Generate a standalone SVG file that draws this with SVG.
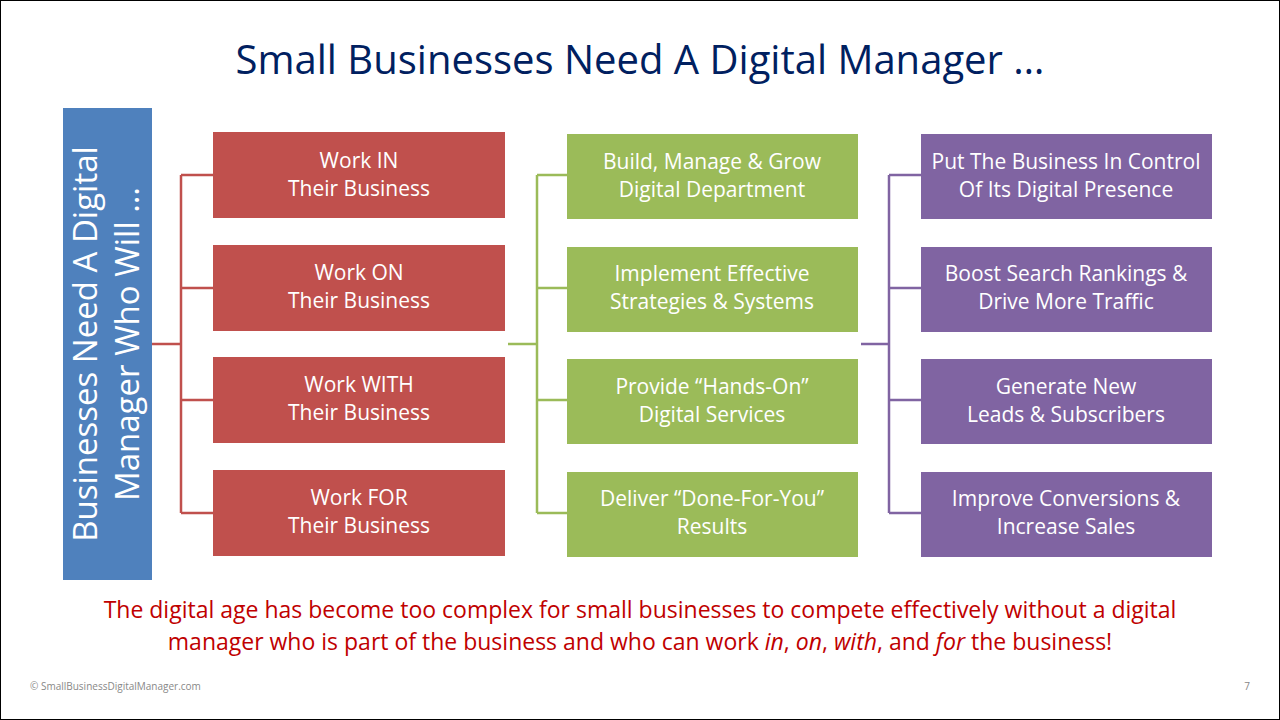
<svg xmlns="http://www.w3.org/2000/svg" width="1280" height="720" viewBox="0 0 1280 720">
<style>
text{font-family:"Open Sans","Noto Sans","Liberation Sans",sans-serif}
.t{fill:#fff;font-size:21px;text-anchor:middle}
.r{fill:#C0504D}.g{fill:#9BBB59}.p{fill:#8064A2}
.cr{stroke:#C0504D;stroke-width:2.5;fill:none}.cg{stroke:#9BBB59;stroke-width:2.5;fill:none}.cp{stroke:#8064A2;stroke-width:2.5;fill:none}
</style>
<rect x="0.5" y="0.5" width="1279" height="719" fill="#fff" stroke="#000"/>
<text x="640" y="74" font-size="40" fill="#002060" text-anchor="middle">Small Businesses Need A Digital Manager …</text>
<g id="lead"><rect x="63" y="108" width="89" height="472" fill="#4F81BD"/>
<text transform="translate(107,344) rotate(-90)" font-size="33" fill="#fff" text-anchor="middle"><tspan x="0" y="-10">Businesses Need A Digital</tspan><tspan x="0" y="32">Manager Who Will …</tspan></text></g>
<g id="connectors">
<path class="cr" d="M152 344H181M181 175V513M181 175H213M181 288H213M181 400H213M181 513H213"/>
<path class="cg" d="M508 344H537M537 175V513M537 175H567M537 288H567M537 400H567M537 513H567"/>
<path class="cp" d="M861 344H889M889 175V513M889 175H921M889 288H921M889 400H921M889 513H921"/>
</g>
<g id="r1"><rect class="r" x="213" y="132" width="292" height="86"/><text class="t" x="359" y="168">Work IN</text><text class="t" x="359" y="196">Their Business</text></g>
<g id="r2"><rect class="r" x="213" y="245" width="292" height="86"/><text class="t" x="359" y="280">Work ON</text><text class="t" x="359" y="308">Their Business</text></g>
<g id="r3"><rect class="r" x="213" y="357" width="292" height="86"/><text class="t" x="359" y="392">Work WITH</text><text class="t" x="359" y="420">Their Business</text></g>
<g id="r4"><rect class="r" x="213" y="470" width="292" height="86"/><text class="t" x="359" y="505">Work FOR</text><text class="t" x="359" y="533">Their Business</text></g>
<g id="g1"><rect class="g" x="567" y="134" width="291" height="85"/><text class="t" x="712" y="169">Build, Manage &amp; Grow</text><text class="t" x="712" y="197">Digital Department</text></g>
<g id="g2"><rect class="g" x="567" y="247" width="291" height="85"/><text class="t" x="712" y="281">Implement Effective</text><text class="t" x="712" y="309">Strategies &amp; Systems</text></g>
<g id="g3"><rect class="g" x="567" y="359" width="291" height="85"/><text class="t" x="712" y="394">Provide “Hands-On”</text><text class="t" x="712" y="422">Digital Services</text></g>
<g id="g4"><rect class="g" x="567" y="472" width="291" height="85"/><text class="t" x="712" y="506">Deliver “Done-For-You”</text><text class="t" x="712" y="534">Results</text></g>
<g id="p1"><rect class="p" x="921" y="134" width="291" height="85"/><text class="t" x="1066" y="169">Put The Business In Control</text><text class="t" x="1066" y="197">Of Its Digital Presence</text></g>
<g id="p2"><rect class="p" x="921" y="247" width="291" height="85"/><text class="t" x="1066" y="281">Boost Search Rankings &amp;</text><text class="t" x="1066" y="309">Drive More Traffic</text></g>
<g id="p3"><rect class="p" x="921" y="359" width="291" height="85"/><text class="t" x="1066" y="394">Generate New</text><text class="t" x="1066" y="422">Leads &amp; Subscribers</text></g>
<g id="p4"><rect class="p" x="921" y="472" width="291" height="85"/><text class="t" x="1066" y="506">Improve Conversions &amp;</text><text class="t" x="1066" y="534">Increase Sales</text></g>
<text x="640" y="618" font-size="23" fill="#C00000" text-anchor="middle">The digital age has become too complex for small businesses to compete effectively without a digital</text>
<text x="640" y="650" font-size="23" fill="#C00000" text-anchor="middle">manager who is part of the business and who can work <tspan font-style="italic">in</tspan>, <tspan font-style="italic">on</tspan>, <tspan font-style="italic">with</tspan>, and <tspan font-style="italic">for</tspan> the business!</text>
<text x="30" y="690" font-size="10" fill="#888" font-family="Liberation Sans,sans-serif">© SmallBusinessDigitalManager.com</text>
<text x="1250" y="690" font-size="10" fill="#888" text-anchor="end">7</text>
</svg>
